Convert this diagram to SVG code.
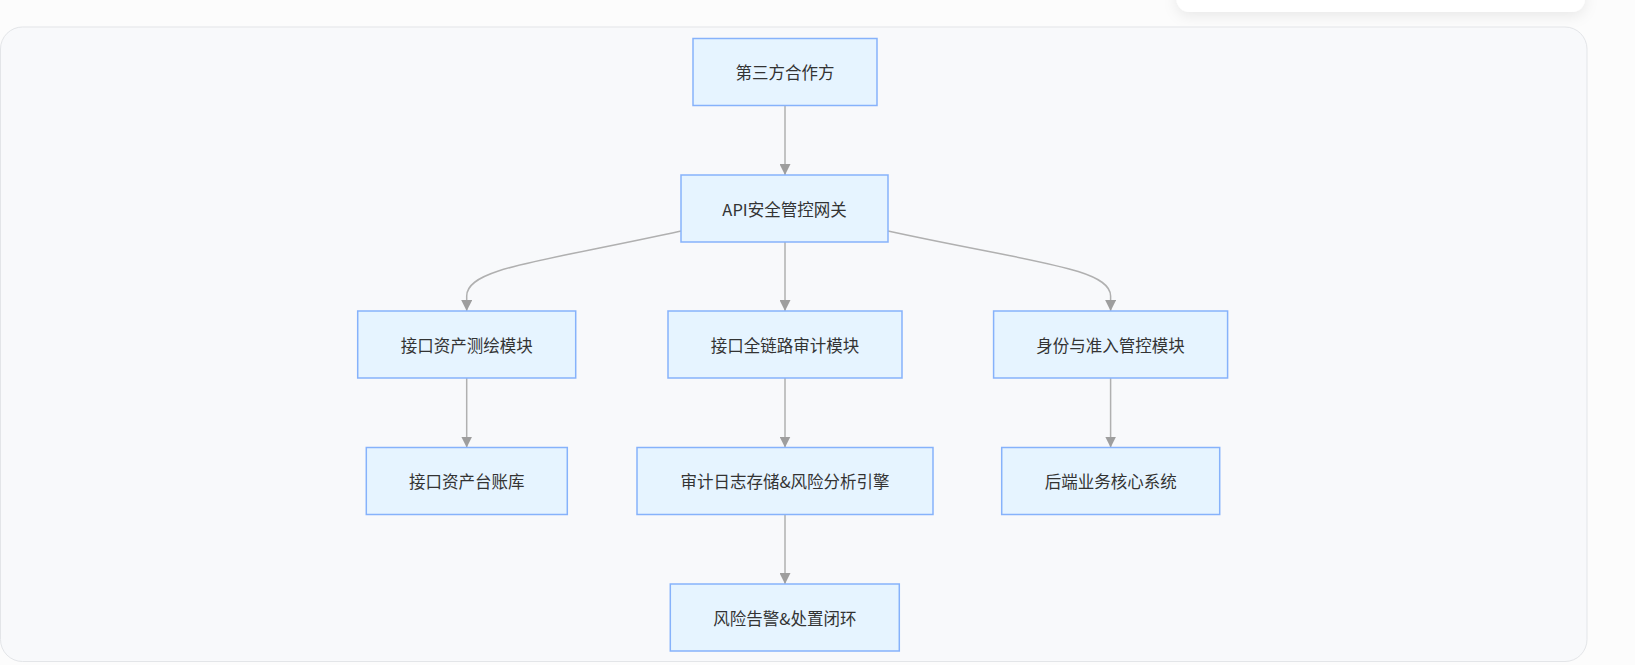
<svg xmlns="http://www.w3.org/2000/svg" width="1635" height="665" viewBox="0 0 1635 665">
  <style>
    .node rect { fill: #e6f4ff; stroke: #86b2fb; stroke-width: 1.5; }
    .node text { font-family: "Noto Sans CJK SC", "Liberation Sans", sans-serif; font-size: 16.5px; fill: #333333; text-anchor: middle; dominant-baseline: central; }
    .edge { fill: none; stroke: #b0b0b0; stroke-width: 1.5; }
  </style>
  <defs>
    <marker id="arrow" markerUnits="userSpaceOnUse" markerWidth="11" markerHeight="11" refX="11" refY="5.5" orient="auto">
      <path d="M0,0 L11,5.5 L0,11 z" fill="#9e9e9e"/>
    </marker>
    <filter id="shadow" x="-10%" y="-100%" width="120%" height="300%">
      <feDropShadow dx="0" dy="4" stdDeviation="7" flood-color="#000000" flood-opacity="0.08"/>
    </filter>
  </defs>

  <rect x="0" y="0" width="1635" height="665" fill="#fcfcfc"/>
  <rect x="1176.5" y="-20" width="408.5" height="32" rx="13" fill="#ffffff" filter="url(#shadow)"/>
  <rect x="0.5" y="27" width="1586.5" height="634.5" rx="22" fill="#f8f9fb" stroke="#e3e5e8" stroke-width="1"/>

  <g id="connectors">
    <path class="edge" d="M785,105.5 L785,175" marker-end="url(#arrow)"/>
    <path class="edge" d="M681,231 C540,262 466.7,268 466.7,296 L466.7,311" marker-end="url(#arrow)"/>
    <path class="edge" d="M785,242 L785,311" marker-end="url(#arrow)"/>
    <path class="edge" d="M888,231 C1030,262 1110.6,268 1110.6,296 L1110.6,311" marker-end="url(#arrow)"/>
    <path class="edge" d="M466.7,378 L466.7,447.5" marker-end="url(#arrow)"/>
    <path class="edge" d="M785,378 L785,447.5" marker-end="url(#arrow)"/>
    <path class="edge" d="M1110.6,378 L1110.6,447.5" marker-end="url(#arrow)"/>
    <path class="edge" d="M785,514.5 L785,584" marker-end="url(#arrow)"/>
  </g>

  <g id="n1" class="node"><rect x="693" y="38.5" width="184" height="67"/><text x="785" y="72">第三方合作方</text></g>
  <g id="n2" class="node"><rect x="681" y="175" width="207" height="67"/><text x="784.5" y="208.5">API安全管控网关</text></g>
  <g id="n3" class="node"><rect x="357.7" y="311" width="218" height="67"/><text x="466.7" y="344.5">接口资产测绘模块</text></g>
  <g id="n4" class="node"><rect x="668" y="311" width="234" height="67"/><text x="785" y="344.5">接口全链路审计模块</text></g>
  <g id="n5" class="node"><rect x="993.6" y="311" width="234" height="67"/><text x="1110.6" y="344.5">身份与准入管控模块</text></g>
  <g id="n6" class="node"><rect x="366.3" y="447.5" width="201" height="67"/><text x="466.8" y="481">接口资产台账库</text></g>
  <g id="n7" class="node"><rect x="637" y="447.5" width="296" height="67"/><text x="785" y="481">审计日志存储&amp;风险分析引擎</text></g>
  <g id="n8" class="node"><rect x="1001.7" y="447.5" width="218" height="67"/><text x="1110.7" y="481">后端业务核心系统</text></g>
  <g id="n9" class="node"><rect x="670.3" y="584" width="229" height="67"/><text x="784.8" y="617.5">风险告警&amp;处置闭环</text></g>
</svg>
